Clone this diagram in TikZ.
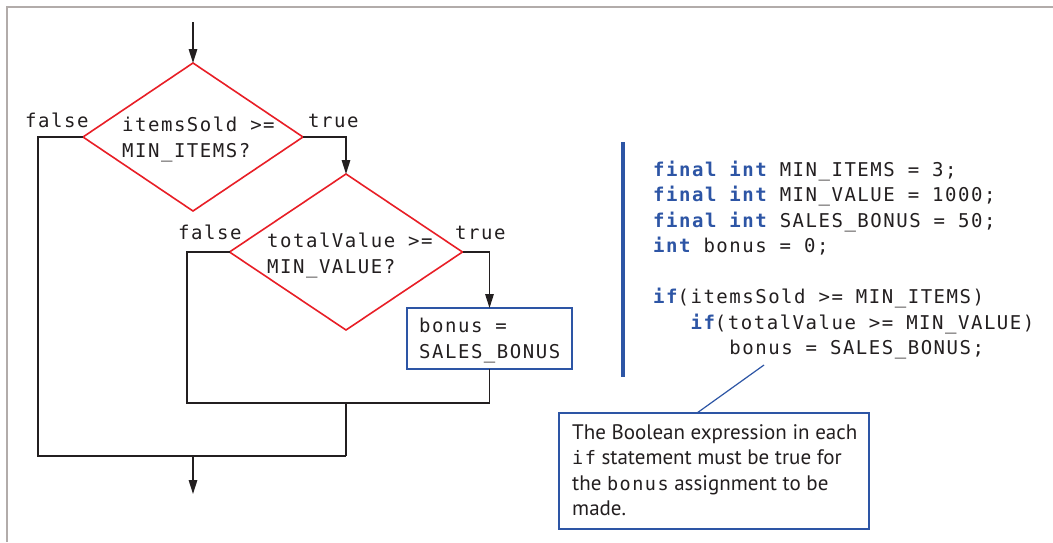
\documentclass[tikz,border=0pt]{standalone}
\usepackage{fontspec}
\usetikzlibrary{arrows.meta,shapes.geometric}
\newfontfamily\codefont[LetterSpace=8]{DejaVu Sans Mono}
\newfontfamily\notefont{PT Sans}
\definecolor{fred}{RGB}{232,30,38}
\definecolor{fblue}{RGB}{45,85,165}
\definecolor{fblack}{RGB}{35,31,32}
\definecolor{fgray}{RGB}{178,172,170}
\newcommand\kw[1]{\textbf{\color{fblue}#1}}
\newcommand\inl[1]{{\codefont\fontsize{18.5}{20}\selectfont #1}}
\begin{document}
\begin{tikzpicture}[x=1pt,y=-1pt,
  decision/.style={diamond, draw=fred, line width=1.6pt, inner sep=0pt, outer sep=0pt},
  flow/.style={draw=fblack, line width=1.5pt},
  arr/.style={flow, -{Triangle[length=14pt,width=8.5pt]}},
  bluebox/.style={rectangle, draw=fblue, line width=1.6pt, inner sep=0pt, outer sep=0pt},
  code/.style={anchor=base west, inner sep=0pt, font=\codefont\fontsize{19}{20}\selectfont, text=fblack},
  note/.style={anchor=base west, inner sep=0pt, font=\notefont\fontsize{21}{25}\selectfont, text=fblack}
]
\useasboundingbox (0,0) rectangle (1053,542);
\fill[white] (0,0) rectangle (1053,542);
% frame
\draw[fgray, line width=1.6pt] (7,542) -- (7,7) -- (1053,7);

% decisions
\node[decision, minimum width=220pt, minimum height=148pt] (d1) at (193,137) {};
\node[decision, minimum width=233pt, minimum height=156pt] (d2) at (346,252) {};
\node[bluebox, minimum width=165pt, minimum height=61pt] (bx) at (489.5,338.5) {};

% texts in flowchart
\node[code] (t1a) at (122,131) {itemsSold >=};
\node[code] (t1b) at (122,157) {MIN\_ITEMS?};
\node[code] (t2a) at (267,247) {totalValue >=};
\node[code] (t2b) at (267,273) {MIN\_VALUE?};
\node[code] (b1) at (419,332) {bonus =};
\node[code] (b2) at (419,358) {SALES\_BONUS};
\node[code] (f1) at (25,127) {false};
\node[code] (tr1) at (308,127) {true};
\node[code] (f2) at (178,239) {false};
\node[code] (tr2) at (455,239) {true};

% coordinates
\coordinate (start) at (193,22);
\coordinate (fl1) at (38,456);
\coordinate (jA) at (346,456);
\coordinate (jB) at (346,403);
\coordinate (fl2) at (187,403);
\coordinate (jC) at (489.5,403);
\coordinate (mid) at (193,456);
\coordinate (endpt) at (193,494);

% connectors
\draw[arr] (start) -- (d1.north);
\draw[flow] (d1.west) -| (fl1) -- (jA);
\draw[arr] (d1.east) -| (d2.north);
\draw[flow] (d2.west) -| (fl2) -- (jC);
\draw[arr] (d2.east) -| (bx.north);
\draw[flow] (bx.south) -- (jC);
\draw[flow] (jB) -- (jA);
\draw[arr] (mid) -- (endpt);

% code bar
\draw[fblue, line width=4.5pt] (623,142) -- (623,377);

% code
\node[code] (c1) at (653,176) {\kw{final} \kw{int} MIN\_ITEMS = 3;};
\node[code] (c2) at (653,201.5) {\kw{final} \kw{int} MIN\_VALUE = 1000;};
\node[code] (c3) at (653,227) {\kw{final} \kw{int} SALES\_BONUS = 50;};
\node[code] (c4) at (653,252.5) {\kw{int} bonus = 0;};
\node[code] (c5) at (653,303.5) {\kw{if}(itemsSold >= MIN\_ITEMS)};
\node[code] (c6) at (653,329) {\hphantom{iii}\kw{if}(totalValue >= MIN\_VALUE)};
\node[code] (c7) at (653,354.5) {\hphantom{iiiiii}bonus = SALES\_BONUS;};

% callout
\node[bluebox, minimum width=310pt, minimum height=116pt] (call) at (714,471) {};
\coordinate (ctop) at (697,413);
\coordinate (ptr) at (764,365);
\draw[fblue, line width=1.2pt] (ctop) -- (ptr);
\node[note] (n1) at (572,439) {The Boolean expression in each};
\node[note] (n2) at (572,464.5) {\inl{if} statement must be true for};
\node[note] (n3) at (572,490) {the \inl{bonus} assignment to be};
\node[note] (n4) at (572,515.5) {made.};
\end{tikzpicture}
\end{document}
